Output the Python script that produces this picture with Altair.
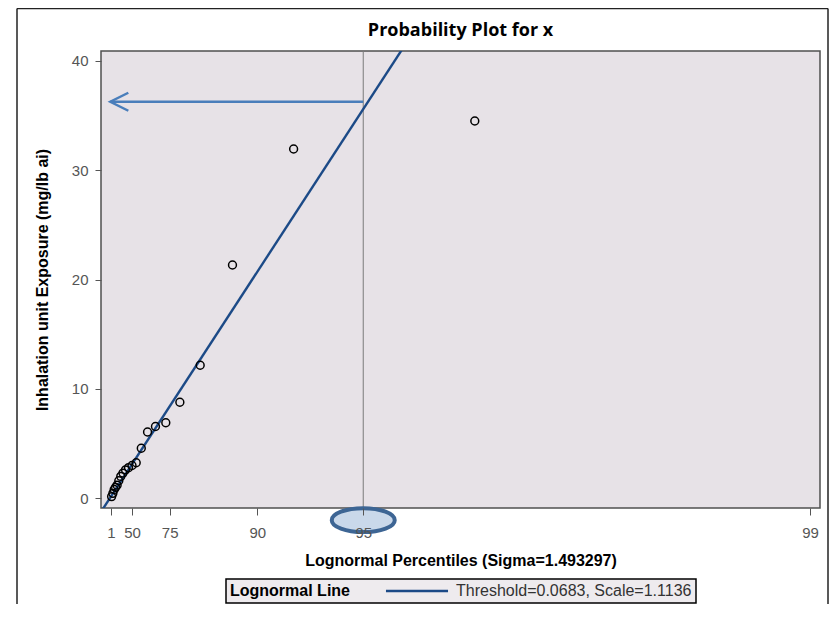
import math
from statistics import NormalDist
import altair as alt
import pandas as pd

# ---------------- data ----------------
exposure = [0.15, 0.45, 0.8, 1.0, 1.2, 1.6, 2.0, 2.3, 2.6, 2.8, 3.0,
            3.25, 4.57, 6.06, 6.56, 6.9, 8.78, 12.16, 21.33, 31.93, 34.49]
tick_percentiles = [1, 50, 75, 90, 95, 99]
y_ticks = [0, 10, 20, 30, 40]
sigma = 1.493297
threshold = 0.0683
scale_zeta = 1.1136
highlight_percentile = 95
arrow_level = 36.25      # exposure read at the 95th percentile
arrow_tip = 0.0          # arrow points to the y axis
ellipse_level = -2.0     # just below the axis, around the "95" label
x_domain = [-0.43, 32.72]
y_domain = [-0.89, 40.89]

nd = NormalDist()


def pos(p):
    """Lognormal percentile axis position (exp(sigma * z))."""
    return math.exp(sigma * nd.inv_cdf(p))


n = len(exposure)
ys = sorted(exposure)
pts = pd.DataFrame({
    "u": [pos((i - 0.375) / (n + 0.25)) for i in range(1, n + 1)],
    "y": ys,
})

line_label = f"Threshold={threshold}, Scale={scale_zeta}"
fit = pd.DataFrame({
    "u": x_domain,
    "y": [threshold + math.exp(scale_zeta) * u for u in x_domain],
    "series": [line_label, line_label],
})

tick_pos = [pos(p / 100) for p in tick_percentiles]
tick_lab = [str(p) for p in tick_percentiles]
expr = "".join(
    f"datum.value < {(tick_pos[k] + tick_pos[k + 1]) / 2:.4f} ? '{tick_lab[k]}' : "
    for k in range(len(tick_pos) - 1)
) + f"'{tick_lab[-1]}'"

u95 = pos(highlight_percentile / 100)

FONT = "Liberation Sans"

x_enc = alt.X("u:Q",
              scale=alt.Scale(domain=x_domain, nice=False, zero=False),
              axis=alt.Axis(values=tick_pos, labelExpr=expr,
                            title="Lognormal Percentiles (Sigma=1.493297)",
                            tickSize=7, labelPadding=10, titlePadding=12,
                            zindex=1))
y_enc = alt.Y("y:Q",
              scale=alt.Scale(domain=y_domain, nice=False, zero=False),
              axis=alt.Axis(values=y_ticks,
                            title="Inhalation unit Exposure (mg/lb ai)",
                            tickSize=6, labelPadding=7, titlePadding=21))

one = pd.DataFrame({"a": [0]})

frame_left = alt.Chart(one).mark_rule(color="#222", strokeWidth=1.5).encode(
    x=alt.value(-84), y=alt.value(-42.5), y2=alt.value(553))
frame_top = alt.Chart(one).mark_rule(color="#222", strokeWidth=1.5).encode(
    x=alt.value(-84), x2=alt.value(727), y=alt.value(-42.5))
frame_right = alt.Chart(one).mark_rule(color="#222", strokeWidth=1.5).encode(
    x=alt.value(727), y=alt.value(-42.5), y2=alt.value(553))

vline = alt.Chart(pd.DataFrame({"u": [u95]})).mark_rule(
    color="#7a7a7a", strokeWidth=1).encode(x=x_enc)

fit_line = alt.Chart(fit).mark_line(strokeWidth=2.4, clip=True).encode(
    x="u:Q", y=y_enc,
    color=alt.Color("series:N",
                    scale=alt.Scale(range=["#1C4A87"]),
                    legend=alt.Legend(
                        title="Lognormal Line", orient="none",
                        legendX=125, legendY=528, direction="horizontal",
                        titleOrient="left", symbolType="M-5,0H5",
                        symbolSize=154, symbolStrokeWidth=2.5,
                        labelFont=FONT, labelFontSize=16, labelColor="#333",
                        labelLimit=400,
                        titleFont=FONT, titleFontSize=16,
                        titleFontWeight="bold", titleColor="black",
                        titlePadding=59, labelOffset=31, padding=4,
                        strokeColor="black", fillColor="#EEEBEE")))

points = alt.Chart(pts).mark_point(
    shape="circle", filled=False, color="black", strokeWidth=1.5, size=62,
    opacity=1).encode(x="u:Q", y="y:Q")

arrow = pd.DataFrame({"u": [u95], "u2": [arrow_tip], "y": [arrow_level]})
arrow_line = alt.Chart(arrow).mark_rule(color="#4A7EBB", strokeWidth=2.5).encode(
    x="u:Q", x2="u2:Q", y="y:Q")
arrow_head = alt.Chart(arrow).mark_point(
    shape="M1,-0.5L0,0L1,0.5", filled=False, color="#4A7EBB",
    strokeWidth=2.5, size=1296, opacity=1).encode(x="u2:Q", y="y:Q")

ellipse = alt.Chart(pd.DataFrame({"u": [u95], "y": [ellipse_level]})).mark_point(
    shape="M-1,0A1,0.38 0 1,0 1,0A1,0.38 0 1,0 -1,0", filled=True,
    fill="#C9D8EA", stroke="#3D6594", strokeWidth=4, size=3969,
    opacity=1, fillOpacity=1).encode(x="u:Q", y="y:Q")

chart = alt.layer(
    vline, frame_left, frame_top, frame_right, fit_line, points,
    arrow_line, arrow_head, ellipse,
).properties(
    width=719, height=457,
    background="white",
    padding={"left": 93, "top": 43, "right": 9, "bottom": 96},
    autosize=alt.AutoSizeParams(type="none"),
    title=alt.TitleParams("Probability Plot for x", font="Open Sans",
                          fontSize=18, fontWeight="bold", color="black",
                          baseline="alphabetic", offset=-46, frame="group",
                          anchor="middle"),
).configure_view(
    fill="#E7E2E7", stroke="#505050", strokeWidth=1.5
).configure_axis(
    grid=False, domain=False, labelFont=FONT, labelFontSize=15,
    labelColor="#555", tickColor="#555", tickWidth=1,
    titleFont=FONT, titleFontSize=16, titleFontWeight="bold",
    titleColor="black", labelOverlap=False
).configure_legend(
    strokeWidth=1.5
)

chart.save("out.html", embed_options={"renderer": "svg", "actions": False})
